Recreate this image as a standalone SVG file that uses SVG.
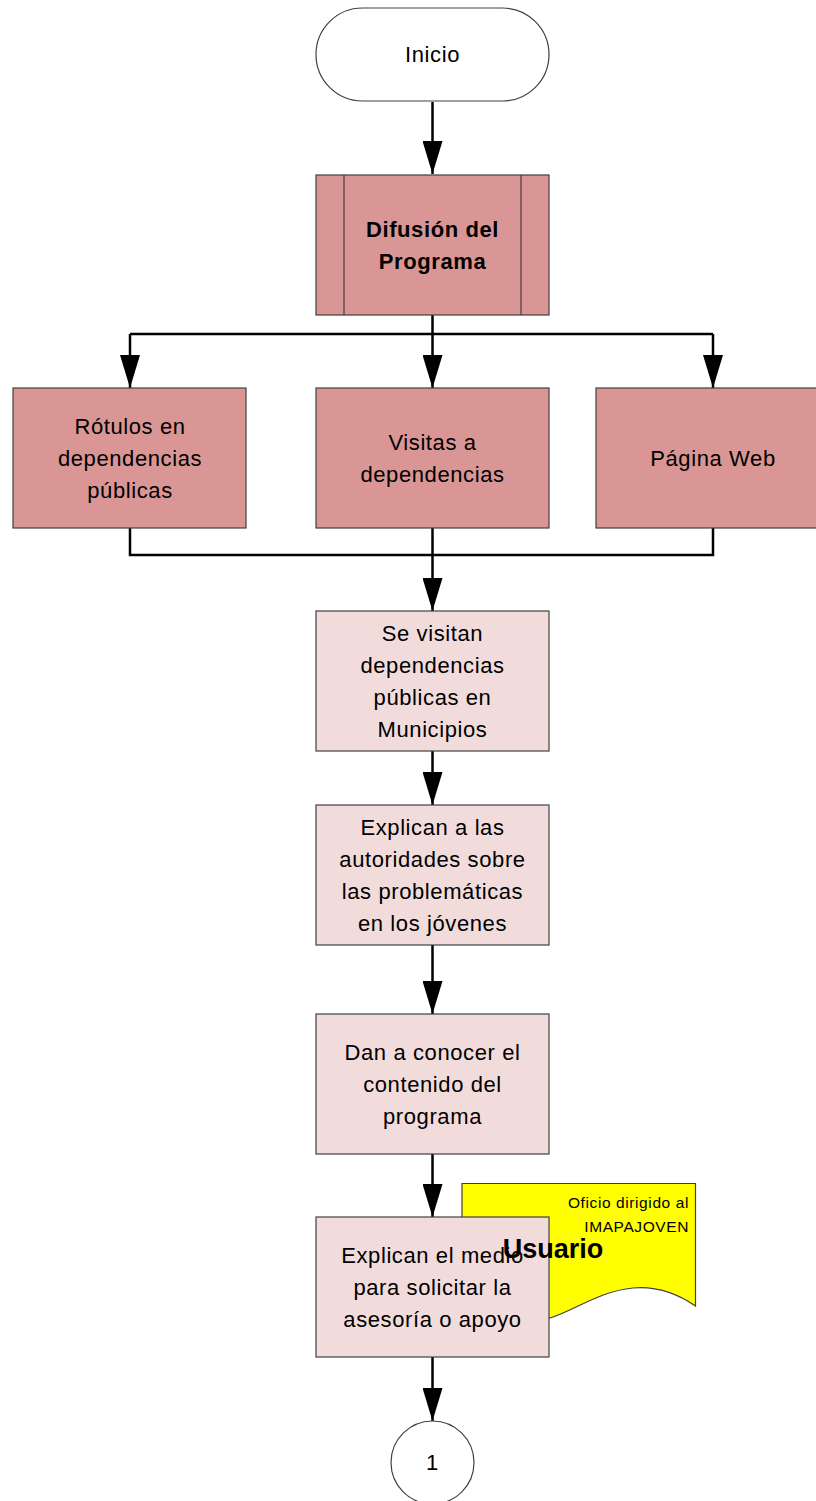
<svg xmlns="http://www.w3.org/2000/svg" width="816" height="1501" viewBox="0 0 816 1501">
<style>
.t{font-family:"Liberation Sans",Arial,sans-serif;font-size:22px;fill:#000;text-anchor:middle;letter-spacing:0.6px}
.b{font-weight:bold}
.dark{fill:#D99694;stroke:#404040;stroke-width:1.2}
.light{fill:#F2DCDB;stroke:#404040;stroke-width:1.2}
.line{fill:none;stroke:#000;stroke-width:2.5}
.small{font-family:"Liberation Sans",Arial,sans-serif;font-size:15.5px;fill:#000;text-anchor:end;letter-spacing:0.6px}
</style>
<defs>
<marker id="ah" viewBox="0 -10 34 20" markerWidth="34" markerHeight="20" refX="33" refY="0" markerUnits="userSpaceOnUse" orient="auto">
<path d="M0,-10 L33,0 L0,10 Z" fill="#000"/>
</marker>
</defs>
<rect width="816" height="1501" fill="#fff"/>
<g id="connectors">
<line class="line" x1="432.5" y1="102" x2="432.5" y2="174" marker-end="url(#ah)"/>
<line class="line" x1="432.5" y1="315" x2="432.5" y2="388" marker-end="url(#ah)"/>
<polyline class="line" points="130,334 713,334"/>
<line class="line" x1="130" y1="334" x2="130" y2="388" marker-end="url(#ah)"/>
<line class="line" x1="713" y1="334" x2="713" y2="388" marker-end="url(#ah)"/>
<polyline class="line" points="130,528 130,555 713,555 713,528"/>
<line class="line" x1="432.5" y1="528" x2="432.5" y2="611" marker-end="url(#ah)"/>
<line class="line" x1="432.5" y1="751" x2="432.5" y2="805" marker-end="url(#ah)"/>
<line class="line" x1="432.5" y1="945" x2="432.5" y2="1014" marker-end="url(#ah)"/>
<line class="line" x1="432.5" y1="1154" x2="432.5" y2="1217" marker-end="url(#ah)"/>
<line class="line" x1="432.5" y1="1357" x2="432.5" y2="1421" marker-end="url(#ah)"/>
</g>
<g id="inicio">
<rect x="316" y="8" width="233" height="93" rx="46.5" ry="46.5" fill="#fff" stroke="#404040" stroke-width="1.2"/>
<text class="t" x="432.5" y="62">Inicio</text>
</g>
<g id="difusion">
<rect class="dark" x="316" y="175" width="233" height="140"/>
<line x1="344" y1="175" x2="344" y2="315" stroke="#404040" stroke-width="1.2"/>
<line x1="521" y1="175" x2="521" y2="315" stroke="#404040" stroke-width="1.2"/>
<text class="t b" x="432.5" y="237">Difusión del</text>
<text class="t b" x="432.5" y="269">Programa</text>
</g>
<g id="rotulos">
<rect class="dark" x="13" y="388" width="233" height="140"/>
<text class="t" x="130" y="434">Rótulos en</text>
<text class="t" x="130" y="466">dependencias</text>
<text class="t" x="130" y="498">públicas</text>
</g>
<g id="visitas">
<rect class="dark" x="316" y="388" width="233" height="140"/>
<text class="t" x="432.5" y="450">Visitas a</text>
<text class="t" x="432.5" y="482">dependencias</text>
</g>
<g id="pagina">
<rect class="dark" x="596" y="388" width="233" height="140"/>
<text class="t" x="713" y="466">Página Web</text>
</g>
<g id="se-visitan">
<rect class="light" x="316" y="611" width="233" height="140"/>
<text class="t" x="432.5" y="641">Se visitan</text>
<text class="t" x="432.5" y="673">dependencias</text>
<text class="t" x="432.5" y="705">públicas en</text>
<text class="t" x="432.5" y="737">Municipios</text>
</g>
<g id="explican-autoridades">
<rect class="light" x="316" y="805" width="233" height="140"/>
<text class="t" x="432.5" y="835">Explican a las</text>
<text class="t" x="432.5" y="867">autoridades sobre</text>
<text class="t" x="432.5" y="899">las problemáticas</text>
<text class="t" x="432.5" y="931">en los jóvenes</text>
</g>
<g id="dan-a-conocer">
<rect class="light" x="316" y="1014" width="233" height="140"/>
<text class="t" x="432.5" y="1060">Dan a conocer el</text>
<text class="t" x="432.5" y="1092">contenido del</text>
<text class="t" x="432.5" y="1124">programa</text>
</g>
<g id="oficio">
<path d="M462,1183.5 H695.5 V1306 C675,1292 655,1286 633,1288 C600,1291 575,1310 550,1318 C520,1328 490,1325 462,1312 Z" fill="#FFFF00" stroke="#404040" stroke-width="1.2"/>
<text class="small" x="689" y="1208">Oficio dirigido al</text>
<text class="small" x="689" y="1232">IMAPAJOVEN</text>
</g>
<g id="explican-medio">
<rect class="light" x="316" y="1217" width="233" height="140"/>
<text class="t" x="432.5" y="1263">Explican el medio</text>
<text class="t" x="432.5" y="1295">para solicitar la</text>
<text class="t" x="432.5" y="1327">asesoría o apoyo</text>
</g>
<g id="usuario">
<text x="553" y="1258" font-family="'Liberation Sans',Arial,sans-serif" font-size="27" font-weight="bold" text-anchor="middle" fill="#000">Usuario</text>
</g>
<g id="conector-1">
<circle cx="432.5" cy="1462.5" r="41.5" fill="#fff" stroke="#404040" stroke-width="1.2"/>
<text class="t" x="432.5" y="1470">1</text>
</g>
</svg>
